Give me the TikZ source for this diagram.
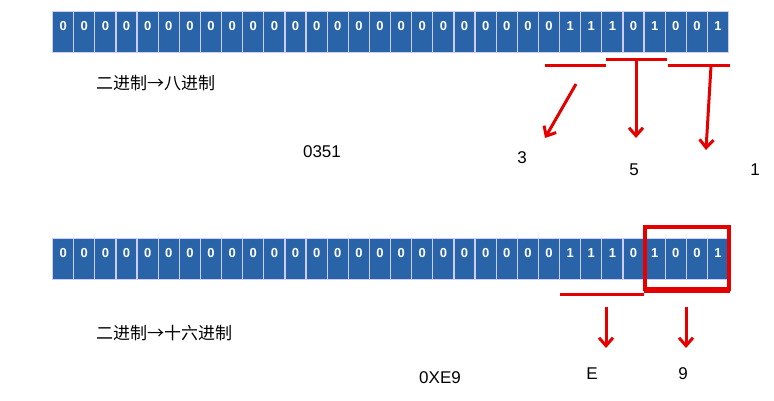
\documentclass[tikz,border=0pt]{standalone}
\usepackage{fontspec}
\usetikzlibrary{arrows.meta}
\setmainfont{Liberation Sans}
\newfontfamily\cjk{Noto Sans CJK SC}
\begin{document}
\begin{tikzpicture}[x=1pt,y=-1pt,
  cell/.style={draw=white!80!blue,line width=1.2pt,fill=cellblue,minimum width=21.1pt,minimum height=41pt,inner sep=0pt,anchor=north west,text=white,font=\bfseries\fontsize{13}{13}\selectfont},
  redl/.style={draw=red!90!black,line width=3pt},
  rarr/.style={draw=red!90!black,line width=3pt,-{Straight Barb[length=8pt,width=14pt]}},
  lab/.style={font=\fontsize{17}{17}\selectfont,inner sep=0pt}]
\definecolor{cellblue}{HTML}{2A64A8}
\useasboundingbox (0,0) rectangle (774,401);
\fill[white] (0,0) rectangle (774,401);
\def\bitsA{0,0,0,0,0,0,0,0,0,0,0,0,0,0,0,0,0,0,0,0,0,0,0,0,1,1,1,0,1,0,0,1}
\foreach \b [count=\i from 0] in \bitsA {
  \node[cell] (a\i) at (52+21.125*\i,11) {\raisebox{12pt}{\b}};
  \node[cell] (b\i) at (52+21.125*\i,238) {\raisebox{12pt}{\b}};
}
% row 1 groups
\coordinate (s1a) at (545,66); \coordinate (s1b) at (606,66);
\coordinate (s2a) at (606,60); \coordinate (s2b) at (667,60);
\coordinate (s3a) at (668,66); \coordinate (s3b) at (730,66);
\draw[redl] (s1a)--(s1b); \draw[redl] (s2a)--(s2b); \draw[redl] (s3a)--(s3b);
\coordinate (r1) at (576,84); \coordinate (t1) at (545,138);
\coordinate (r2) at (636,60); \coordinate (t2) at (636,138);
\coordinate (r3) at (711,66); \coordinate (t3) at (706,150);
\draw[rarr] (r1)--(t1); \draw[rarr] (r2)--(t2); \draw[rarr] (r3)--(t3);
\node[lab] (l3) at (522,158) {3};
\node[lab] (l5) at (634,170) {5};
\node[lab] (l1) at (755,170) {1};
\node[lab] (oct) at (322,152) {0351};
\node[lab,anchor=west] (t8) at (96,83) {\cjk 二进制→八进制};
% row 2
\node[draw=red!90!black,line width=4pt,minimum width=84pt,minimum height=62pt,inner sep=0pt,anchor=north west] (box) at (643,225) {};
\coordinate (u1a) at (560,294); \coordinate (u1b) at (644,294);
\coordinate (u2a) at (644,291); \coordinate (u2b) at (730,291);
\draw[redl] (u1a)--(u1b); \draw[redl] (u2a)--(u2b);
\coordinate (q1) at (606,307); \coordinate (p1) at (606,348);
\coordinate (q2) at (686,307); \coordinate (p2) at (686,348);
\draw[rarr] (q1)--(p1); \draw[rarr] (q2)--(p2);
\node[lab] (lE) at (592,374) {E};
\node[lab] (l9) at (683,374) {9};
\node[lab] (hex) at (440,378) {0XE9};
\node[lab,anchor=west] (t16) at (96,333) {\cjk 二进制→十六进制};
\end{tikzpicture}
\end{document}
